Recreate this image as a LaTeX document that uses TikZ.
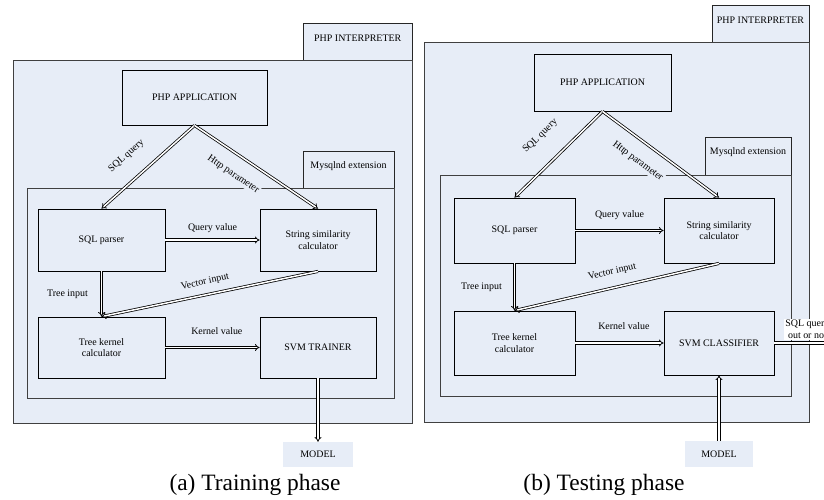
\documentclass[tikz,border=0pt]{standalone}
\usepackage{fontspec}
\setmainfont{Liberation Serif}
\usetikzlibrary{arrows.meta,positioning,fit}
\definecolor{paneblue}{RGB}{231,237,247}

\begin{document}
\begin{tikzpicture}[
    x=0.03cm, y=-0.03cm,
    font=\fontsize{8.5}{10}\selectfont,
    cont/.style={draw=black!75, line width=0.8pt, fill=paneblue, inner sep=0pt},
    tabbox/.style={draw=black!85, line width=0.8pt, fill=paneblue, inner sep=0pt},
    box/.style={draw, line width=0.7pt, fill=paneblue, align=center},
    mdl/.style={fill=paneblue, minimum width=2.1cm, minimum height=0.75cm},
    dbl/.style={double, double distance=1.3pt, line width=0.65pt, -{Implies}},
    lbl/.style={inner sep=1pt},
    caption/.style={font=\fontsize{20}{24}\selectfont}
  ]
    \clip (0,0) rectangle (824,499);
    \fill[white] (0,0) rectangle (824,499);

    % (a) training phase
    \node[tabbox, fit={(303,23) (412.5,60)}] (intTabA) {PHP INTERPRETER};
    \node[cont, fit={(13,60) (412.5,423)}] (intA) {};
    \node[tabbox, fit={(303,151) (394,188)}] (mysTabA) {Mysqlnd extension};
    \node[cont, fit={(27,188) (394,398)}] (mysA) {};

    \node[box, minimum width=4.35cm, minimum height=1.65cm] (phpA) at (194.5,97.5) {PHP APPLICATION};
    \node[box, minimum width=3.81cm, minimum height=1.86cm] (sqlA) at (101.5,240) {SQL parser};
    \node[box, minimum width=3.48cm, minimum height=1.86cm] (strA) at (318,240) {String similarity\\calculator};
    \node[box, minimum width=3.81cm, minimum height=1.83cm] (treeA) at (101.5,347.5) {Tree kernel\\calculator};
    \node[box, minimum width=3.48cm, minimum height=1.83cm] (svmA) at (318,347.5) {SVM TRAINER};
    \node[mdl] (modelA) at (318,454.5) {MODEL};

    \draw[dbl] (phpA.south) -- node[lbl, sloped, above=5mm, pos=.57] (sqlqA) {SQL query} (sqlA.north);
    \draw[dbl] (phpA.south) -- node[lbl, fill=paneblue, sloped, below=4mm, pos=.4] (httpA) {Http parameter} (strA.north);
    \draw[dbl] (sqlA) -- node[lbl, above=1.8mm] (qvA) {Query value} (strA);
    \draw[dbl] (sqlA) -- node[lbl, left=3.6mm] (tiA) {Tree input} (treeA);
    \draw[dbl] (strA.south) -- node[lbl, sloped, above=2mm, pos=.51] (viA) {Vector input} (treeA.north);
    \draw[dbl] (treeA) -- node[lbl, above=3.5mm, xshift=1.3mm] (kvA) {Kernel value} (svmA);
    \draw[dbl] (svmA) -- (modelA);

    \node[caption] (capA) at (255,485) {(a) Training phase};

    % (b) testing phase
    \node[tabbox, fit={(712,5) (809,42)}] (intTabB) {PHP INTERPRETER};
    \node[cont, fit={(424,42) (809,422)}] (intB) {};
    \node[tabbox, fit={(705,137) (791,175)}] (mysTabB) {Mysqlnd extension};
    \node[cont, fit={(440,175) (791,396)}] (mysB) {};

    \node[box, minimum width=4.11cm, minimum height=1.71cm] (phpB) at (602.5,82.5) {PHP APPLICATION};
    \node[box, minimum width=3.63cm, minimum height=1.95cm] (sqlB) at (514.5,230.5) {SQL parser};
    \node[box, minimum width=3.3cm, minimum height=1.95cm] (strB) at (719,230.5) {String similarity\\calculator};
    \node[box, minimum width=3.63cm, minimum height=1.92cm] (treeB) at (514.5,343) {Tree kernel\\calculator};
    \node[box, minimum width=3.3cm, minimum height=1.92cm] (svmB) at (719,343) {SVM CLASSIFIER};
    \node[mdl, minimum width=2.04cm, minimum height=0.78cm] (modelB) at (719,454) {MODEL};
    \coordinate (outB) at (834,343);

    \draw[dbl] (phpB.south) -- node[lbl, sloped, above=6mm, pos=.5] (sqlqB) {SQL query} (sqlB.north);
    \draw[dbl] (phpB.south) -- node[lbl, fill=paneblue, sloped, below=4mm, pos=.4] (httpB) {Http parameter} (strB.north);
    \draw[dbl] (sqlB) -- node[lbl, above=2.8mm] (qvB) {Query value} (strB);
    \draw[dbl] (sqlB) -- node[lbl, left=3.3mm] (tiB) {Tree input} (treeB);
    \draw[dbl] (strB.south) -- node[lbl, sloped, above=3mm, pos=.505] (viB) {Vector input} (treeB.north);
    \draw[dbl] (treeB) -- node[lbl, above=3.6mm, xshift=1.3mm] (kvB) {Kernel value} (svmB);
    \draw[dbl] (modelB) -- (svmB);
    \draw[dbl] (svmB) -- (outB);
    \node[lbl, fill=white, align=center, anchor=south west] (resB) at (784,340) {SQL query\\out or not};

    \node[caption] (capB) at (604,485) {(b) Testing phase};
  \end{tikzpicture}
\end{document}
